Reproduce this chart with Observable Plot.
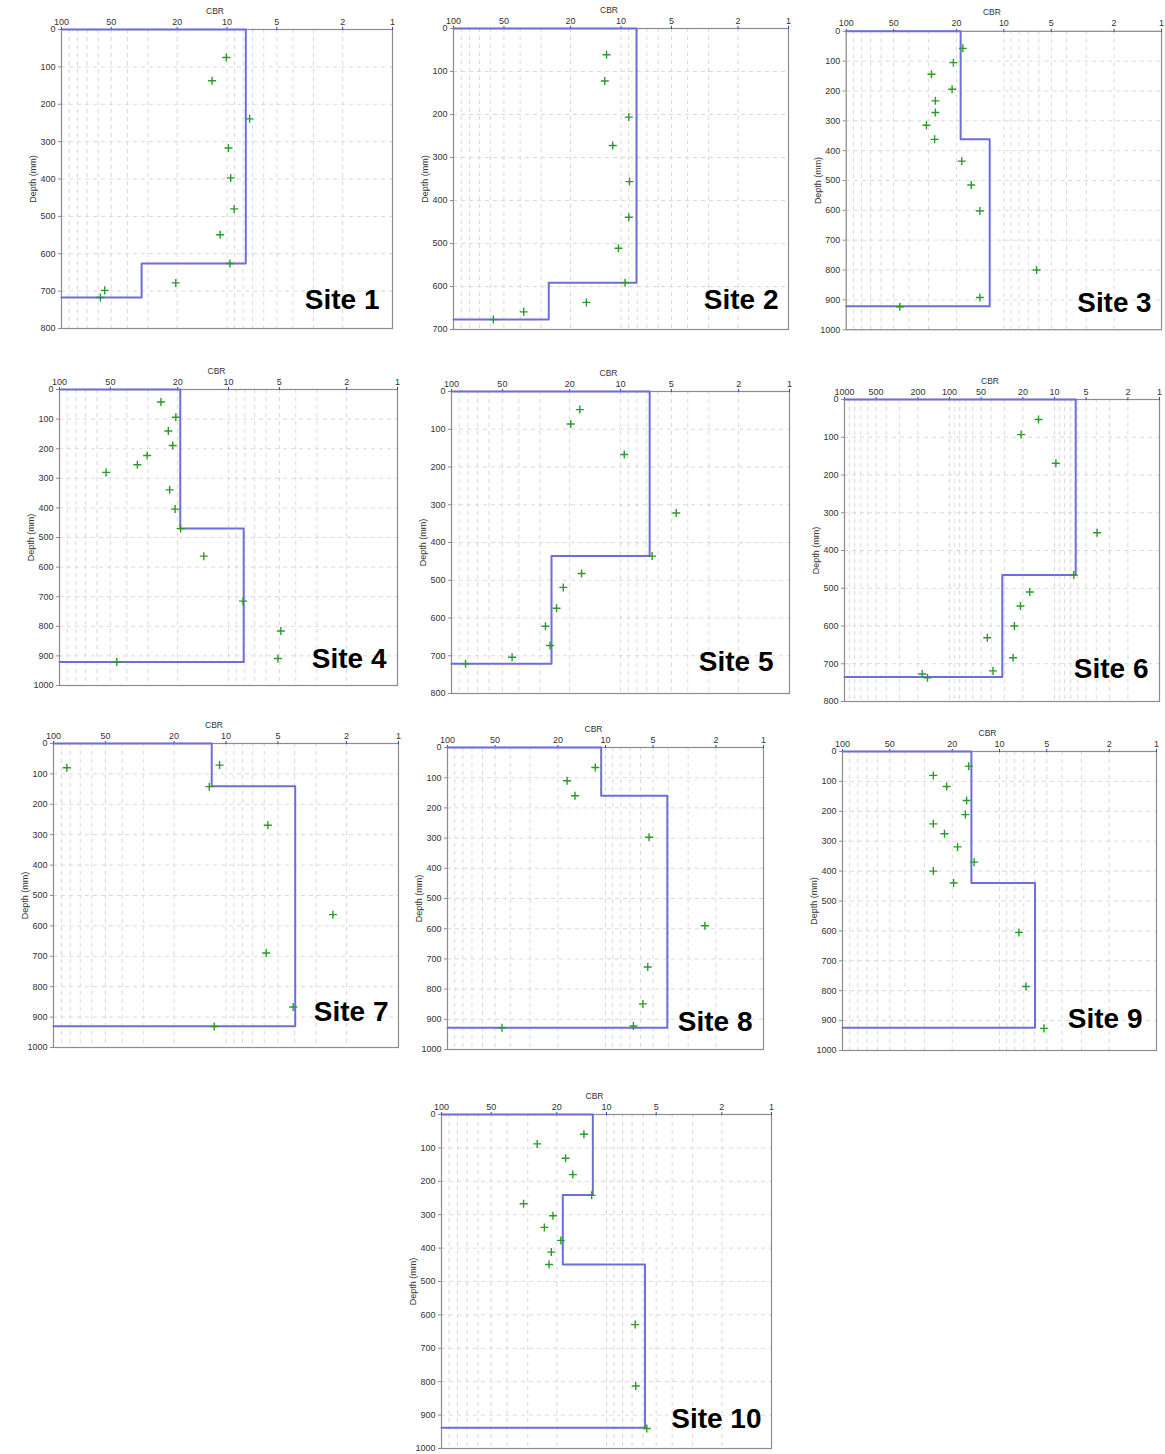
<!DOCTYPE html>
<html><head><meta charset="utf-8">
<script src="https://cdn.jsdelivr.net/npm/d3@7"></script>
<script src="https://cdn.jsdelivr.net/npm/@observablehq/plot@0.6"></script>
<style>
body{margin:0;background:#fff;}
#root{position:relative;width:1165px;height:1454px;overflow:hidden;background:#fff;font-family:"Liberation Sans",Arial,sans-serif;}
.panel{position:absolute;}
</style></head><body><div id="root"></div>
<script>
// ---------- data ----------
const siteNames = ["Site 1","Site 2","Site 3","Site 4","Site 5","Site 6","Site 7","Site 8","Site 9","Site 10"];

const site1Depth = [75, 137, 239, 317, 397, 480, 549, 626, 678, 698, 717];
const site1CBR   = [10.1, 12.3, 7.3, 9.8, 9.5, 9.05, 11.0, 9.6, 20.4, 54.8, 58.2];
const site1LayerCBR = [7.7, 32.8];
const site1LayerBottom = [626, 717];

const site2Depth = [61, 122, 206, 272, 356, 439, 511, 591, 637, 659, 677];
const site2CBR   = [12.2, 12.5, 8.98, 11.2, 8.9, 8.98, 10.35, 9.45, 16.1, 38.1, 57.8];
const site2LayerCBR = [8.08, 27.0];
const site2LayerBottom = [591, 677];

const site3Depth = [57, 105, 144, 194, 233, 272, 315, 362, 435, 515, 602, 800, 892, 923];
const site3CBR   = [18.2, 20.9, 28.8, 21.3, 27.2, 27.2, 31.0, 27.5, 18.5, 16.1, 14.2, 6.2, 14.2, 45.7];
const site3LayerCBR = [18.8, 12.3];
const site3LayerBottom = [362, 921];

const site4Depth = [42, 94, 140, 189, 223, 254, 280, 339, 404, 470, 563, 715, 816, 909, 921];
const site4CBR   = [25.1, 20.5, 22.7, 21.4, 30.3, 34.6, 53.0, 22.3, 20.7, 19.2, 14.0, 8.2, 4.9, 5.1, 45.8];
const site4LayerCBR = [19.3, 8.13];
const site4LayerBottom = [470, 921];

const site5Depth = [48, 86, 167, 322, 436, 482, 519, 574, 622, 673, 704, 721];
const site5CBR   = [17.4, 19.7, 9.5, 4.68, 6.5, 17.0, 21.8, 23.9, 27.8, 26.1, 43.8, 82.6];
const site5LayerCBR = [6.72, 25.6];
const site5LayerBottom = [436, 721];

const site6Depth = [53, 93, 169, 353, 465, 510, 547, 600, 631, 684, 719, 727, 737];
const site6CBR   = [14.2, 20.8, 9.7, 3.93, 6.55, 17.2, 21.1, 24.1, 43.6, 24.8, 38.5, 182, 162];
const site6LayerCBR = [6.28, 31.4];
const site6LayerBottom = [465, 735];

const site7Depth = [80, 71, 142, 269, 563, 689, 867, 931];
const site7CBR   = [83.7, 10.9, 12.5, 5.72, 2.4, 5.85, 4.08, 11.7];
const site7LayerCBR = [12.1, 3.97];
const site7LayerBottom = [141, 930];

const site8Depth = [66, 110, 160, 297, 590, 727, 849, 922, 928];
const site8CBR   = [11.6, 17.5, 15.6, 5.3, 2.35, 5.4, 5.8, 6.66, 45.2];
const site8LayerCBR = [10.65, 4.06];
const site8LayerBottom = [160, 928];

const site9Depth = [49, 80, 117, 164, 211, 242, 275, 319, 370, 400, 440, 605, 786, 926];
const site9CBR   = [15.7, 26.4, 21.7, 16.2, 16.5, 26.4, 22.4, 18.5, 14.5, 26.4, 19.6, 7.52, 6.78, 5.21];
const site9LayerCBR = [15.1, 5.94];
const site9LayerBottom = [440, 924];

const site10Depth = [59, 88, 131, 180, 242, 267, 303, 338, 377, 412, 449, 629, 813, 940];
const site10CBR   = [13.7, 26.3, 17.7, 16.0, 12.3, 31.8, 21.1, 23.8, 18.9, 21.6, 22.3, 6.7, 6.65, 5.7];
const site10LayerCBR = [12.1, 18.4, 5.84];
const site10LayerBottom = [241, 449, 938];

const cbrTicks = [100, 50, 20, 10, 5, 2, 1];
const cbrTicksWide = [1000, 500, 200, 100, 50, 20, 10, 5, 2, 1];
const xAxisTitle = "CBR";
const yAxisTitle = "Depth (mm)";

const depthMax = [800, 700, 1000, 1000, 800, 800, 1000, 1000, 1000, 1000];
const cbrMax   = [100, 100, 100, 100, 100, 1000, 100, 100, 100, 100];

// ---------- layout ----------
const frameLeft   = [61, 453, 846, 59, 451, 844, 53, 447, 842, 441];
const frameTop    = [29, 28, 31, 389, 391, 399, 743, 747, 751, 1114];
const frameRight  = [392, 788, 1163, 397, 789, 1159, 398, 763, 1156, 771];
const frameBottom = [328, 329, 331, 685, 693, 701, 1047, 1049, 1050, 1448];
const labelDx = [-13, -10, -10, -11, -16, -11, -10, -11, -14, -10];
const labelDy = [-20, -21, -18, -18, -23, -24, -27, -19, -23, -21];

const sites = [
  [site1Depth, site1CBR, site1LayerCBR, site1LayerBottom],
  [site2Depth, site2CBR, site2LayerCBR, site2LayerBottom],
  [site3Depth, site3CBR, site3LayerCBR, site3LayerBottom],
  [site4Depth, site4CBR, site4LayerCBR, site4LayerBottom],
  [site5Depth, site5CBR, site5LayerCBR, site5LayerBottom],
  [site6Depth, site6CBR, site6LayerCBR, site6LayerBottom],
  [site7Depth, site7CBR, site7LayerCBR, site7LayerBottom],
  [site8Depth, site8CBR, site8LayerCBR, site8LayerBottom],
  [site9Depth, site9CBR, site9LayerCBR, site9LayerBottom],
  [site10Depth, site10CBR, site10LayerCBR, site10LayerBottom]
];

const mL = 50, mT = 31, mR = 4, mB = 4;
const root = document.getElementById("root");
const FONT = "'Liberation Sans', Arial, sans-serif";

function logGrid(max) {
  const out = [];
  for (let dec = 1; dec < max; dec *= 10) for (let k = 1; k < 10; k++) out.push(dec * k);
  out.push(max);
  return out;
}

sites.forEach(([depth, cbr, layerCBR, layerBottom], i) => {
  const xMax = cbrMax[i];
  const pts = depth.map((d, j) => ({depth: d, cbr: cbr[j]}));
  const step = [{cbr: xMax, depth: 0}];
  let top = 0;
  layerCBR.forEach((c, j) => {
    step.push({cbr: c, depth: top}, {cbr: c, depth: layerBottom[j]});
    top = layerBottom[j];
  });
  step.push({cbr: xMax, depth: top});

  const xt = xMax === 1000 ? cbrTicksWide : cbrTicks;
  const yTicks = d3.range(0, depthMax[i] + 1, 100);
  const w = frameRight[i] - frameLeft[i] + mL + mR;
  const h = frameBottom[i] - frameTop[i] + mT + mB;

  const chart = Plot.plot({
    width: w, height: h,
    marginLeft: mL, marginTop: mT, marginRight: mR, marginBottom: mB,
    style: {fontFamily: FONT, fontSize: "9px", color: "#333", background: "transparent"},
    x: {type: "log", domain: [xMax, 1]},
    y: {domain: [0, depthMax[i]], reverse: true},
    marks: [
      Plot.gridX(logGrid(xMax), {stroke: "#d9d9d9", strokeOpacity: 1, strokeDasharray: "4,4"}),
      Plot.gridY(yTicks, {stroke: "#d9d9d9", strokeOpacity: 1, strokeDasharray: "4,4"}),
      Plot.frame({stroke: "#8c8c8c", strokeWidth: 1.2}),
      Plot.axisX(xt, {
        anchor: "top", tickSize: 3, stroke: "#3a3ac8", tickFormat: () => "", label: null
      }),
      Plot.text(xt, {x: d => d, frameAnchor: "top", dy: -5, lineAnchor: "bottom", textAnchor: "middle",
        text: d => String(d), fill: "#333", fontSize: 9}),
      Plot.text([xAxisTitle], {frameAnchor: "top", dx: -12, dy: -16, lineAnchor: "bottom", textAnchor: "middle",
        fill: "#333", fontSize: 8.5}),
      Plot.axisY(yTicks, {
        anchor: "left", tickSize: 3, tickPadding: 3, stroke: "#8c8c8c", fill: "#333",
        tickFormat: d => String(d), label: yAxisTitle, labelAnchor: "center", labelArrow: "none", labelOffset: 32
      }),
      Plot.line(step, {x: "cbr", y: "depth", stroke: "#6e6ed8", strokeWidth: 2, curve: "linear"}),
      Plot.dot(pts, {x: "cbr", y: "depth", symbol: "plus", r: 2.7, stroke: "#2a9a2a", strokeWidth: 1.4}),
      Plot.text([siteNames[i]], {
        frameAnchor: "bottom-right", textAnchor: "end", lineAnchor: "bottom",
        dx: labelDx[i], dy: labelDy[i], fontSize: 28, fontWeight: "bold", fill: "#000", fontFamily: FONT
      })
    ]
  });
  const div = document.createElement("div");
  div.className = "panel";
  div.style.left = (frameLeft[i] - mL) + "px";
  div.style.top = (frameTop[i] - mT) + "px";
  div.appendChild(chart);
  root.appendChild(div);
});
</script>
</body></html>
